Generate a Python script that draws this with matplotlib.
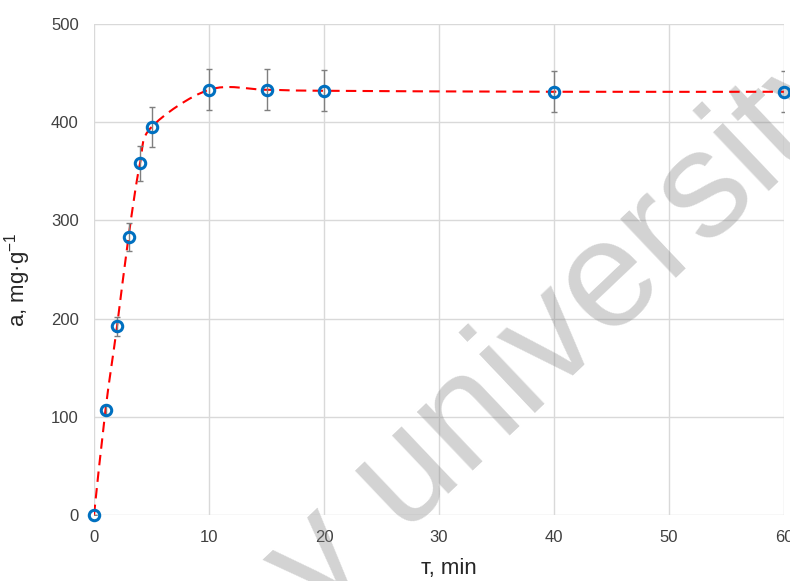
import matplotlib
matplotlib.use("Agg")
import matplotlib.pyplot as plt
from matplotlib.path import Path
from matplotlib.patches import PathPatch
import numpy as np

# ---- data ----
time_min = [0, 1, 2, 3, 4, 5, 10, 15, 20, 40, 60]
adsorption = [0, 107, 192, 283, 358, 395, 433, 433, 432, 431, 431]
errors = [0, 5, 10, 14, 18, 20, 21, 21, 21, 21, 21]
x_ticks = [0, 10, 20, 30, 40, 50, 60]
y_ticks = [0, 100, 200, 300, 400, 500]
x_label = "т, min"
y_label = r"a, mg·g$^{\mathregular{-1}}$"
watermark = "y university"

plt.rcParams['font.family'] = ['Liberation Sans', 'DejaVu Sans']
plt.rcParams['mathtext.fontset'] = 'custom'
plt.rcParams['mathtext.rm'] = 'Liberation Sans'
plt.rcParams['mathtext.it'] = 'Liberation Sans:italic'

W, H = 790, 581
fig = plt.figure(figsize=(W / 100, H / 100), dpi=100)
ax = fig.add_axes([94 / W, 66 / H, 690 / W, 491 / H])

ax.set_xlim(0, 60)
ax.set_ylim(0, 500)
ax.set_xticks(x_ticks)
ax.set_yticks(y_ticks)
ax.set_axisbelow(True)
ax.grid(True, color='#d9d9d9', linewidth=1.0, zorder=0)
for s in ax.spines.values():
    s.set_visible(False)
ax.tick_params(length=0, labelsize=12, labelcolor='#404040', pad=11)

# smooth (Excel-like) curve through points using cubic Bezier segments
P = np.column_stack([time_min, adsorption]).astype(float)
n = len(P)
verts = [tuple(P[0])]
codes = [Path.MOVETO]
for i in range(n - 1):
    p0 = P[i - 1] if i > 0 else P[i]
    p1 = P[i]
    p2 = P[i + 1]
    p3 = P[i + 2] if i + 2 < n else P[i + 1]
    c1 = p1 + (p2 - p0) / 6.0
    c2 = p2 - (p3 - p1) / 6.0
    verts += [tuple(c1), tuple(c2), tuple(p2)]
    codes += [Path.CURVE4] * 3
curve = PathPatch(Path(verts, codes), facecolor='none', edgecolor='#ff0000',
                  linewidth=1.5, linestyle=(0, (5, 3)), zorder=3,
                  transform=ax.transData)
ax.add_patch(curve)

ax.errorbar(time_min, adsorption, yerr=errors, fmt='none', ecolor='#7f7f7f',
            elinewidth=1.0, capsize=2.5, capthick=1.0, zorder=4)
ax.plot(time_min, adsorption, linestyle='none', marker='o', markersize=7.5,
        markerfacecolor='none', markeredgecolor='#0070c0', markeredgewidth=2.2,
        zorder=5, clip_on=False)

ax.set_xlabel(x_label, fontsize=16, color='#262626')
ax.xaxis.set_label_coords(0.515, -0.088)
ax.set_ylabel(y_label, fontsize=16, color='#262626')
ax.yaxis.set_label_coords(-0.088, 0.48)

# watermark
ax.text(318 / W, 1 - 618 / H, watermark, transform=fig.transFigure,
        rotation=43.5, rotation_mode='anchor', ha='left', va='baseline',
        fontsize=110, color=(0.5, 0.5, 0.5), alpha=0.35, zorder=1,
        clip_on=False)

fig.savefig('out.png', dpi=100)
